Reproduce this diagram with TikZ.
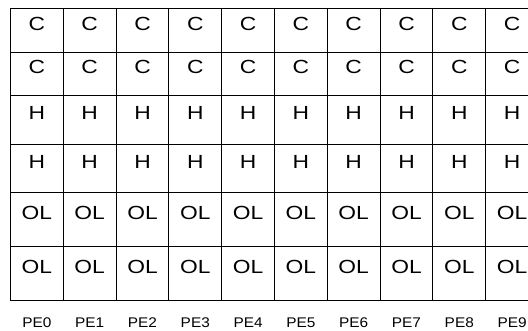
\documentclass[tikz,border=0pt]{standalone}
\usepackage{fontspec}
\setmainfont{Liberation Sans}
\newfontfamily\cellfont[FakeStretch=1.2]{Liberation Sans}
\newfontfamily\pefont[FakeStretch=1.1]{Liberation Sans}
\usetikzlibrary{positioning}

\begin{document}
\begin{tikzpicture}[
    x=1pt,
    y=-1pt,
    cell/.style={
        rectangle,
        draw,
        line width=1pt,
        inner sep=0pt,
        minimum width=52.8pt,
        anchor=north west,
        font=\cellfont\fontsize{19}{19}\selectfont
    },
    pelabel/.style={
        inner sep=0pt,
        font=\pefont\fontsize{14}{14}\selectfont
    }
]
\useasboundingbox (0,0) rectangle (528,331);

% rows: index / top / height / text
\foreach \r/\top/\ht/\txt in {1/8/44/C, 2/52/43/C, 3/95/49/H, 4/144/48/H, 5/192/54/OL, 6/246/54/OL}
  \foreach \c in {0,...,9}
    \node[cell, minimum height=\ht pt] (c\r-\c) at ({10+52.8*\c},\top) {\txt};

% processing element labels
\foreach \c in {0,...,9}
  \node[pelabel] (pe\c) at ([yshift=-21.5pt]c6-\c.south) {PE\c};

\end{tikzpicture}
\end{document}
